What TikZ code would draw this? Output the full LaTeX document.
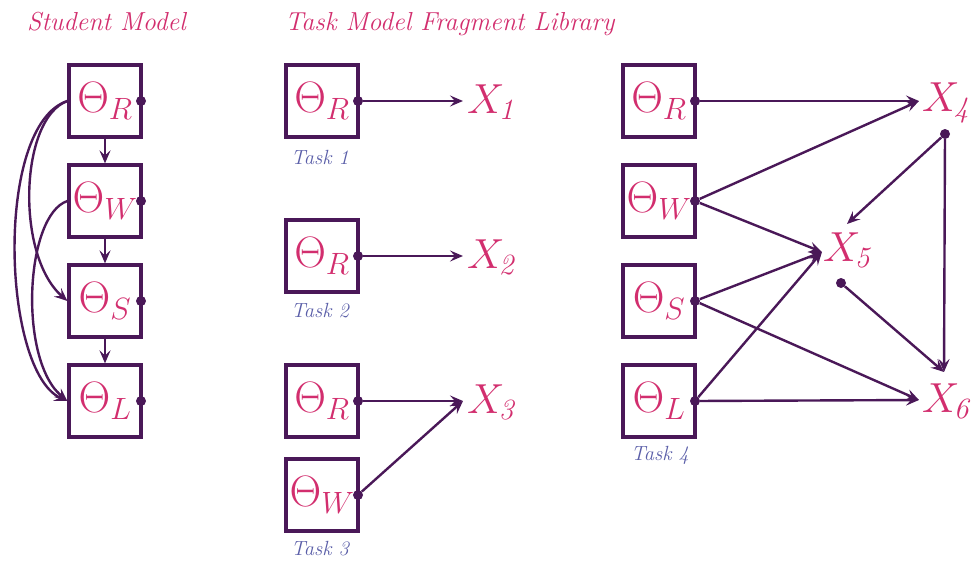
\RequirePackage{fix-cm}
\documentclass[tikz,border=0pt]{standalone}
\usetikzlibrary{arrows.meta,calc}
\definecolor{pk}{HTML}{D22E6E}
\definecolor{pu}{HTML}{4A1858}
\definecolor{bl}{HTML}{5A5EA8}
\newcommand{\xv}[1]{$X_{\mkern-1.5mu\mathit{#1}}$}
\begin{document}
\begin{tikzpicture}[x=1pt,y=-1pt,
  box/.style={draw=pu, line width=3.2pt, minimum size=72pt, inner sep=0pt, text=pk, font=\fontsize{44}{44}\selectfont},
  dot/.style={circle, fill=pu, inner sep=0pt, minimum size=10pt},
  xlab/.style={text=pk, font=\fontsize{42}{42}\selectfont, inner sep=0pt, anchor=base west},
  arr/.style={draw=pu, line width=2.4pt, -{Stealth[length=13pt,width=11pt,inset=5pt]}},
  tlab/.style={text=bl, font=\fontsize{20.5}{20.5}\selectfont\itshape},
  ttl/.style={text=pk, font=\fontsize{26}{26}\selectfont\itshape, anchor=base west, inner sep=0pt}]
\useasboundingbox (0,0) rectangle (974,563);

% titles
\node[ttl] (ttlS) at (27,30) {Student Model};
\node[ttl] (ttlT) at (285,30) {Task Model Fragment Library};

% student model
\node[box] (sR) at (105,101) {$\Theta_R$};
\node[box] (sW) at (105,201) {$\Theta_W$};
\node[box] (sS) at (105,301) {$\Theta_S$};
\node[box] (sL) at (105,401) {$\Theta_L$};
\foreach \n in {sR,sW,sS,sL} {\node[dot] (\n d) at ([xshift=-1.6pt]\n.east) {};}
\draw[arr] (sR.south) -- (sW.north);
\draw[arr] (sW.south) -- (sS.north);
\draw[arr] (sS.south) -- (sL.north);
\draw[arr] (sR.west) .. controls (20,118) and (15,255) .. (sS.west);
\draw[arr] (sR.west) .. controls (-6,125) and (2,372) .. (sL.west);
\draw[arr] (sW.west) .. controls (25,215) and (18,360) .. (sL.west);

% task 1
\node[box] (t1R) at (322,101) {$\Theta_R$};
\node[dot] (t1Rd) at ([xshift=-1.6pt]t1R.east) {};
\node[xlab] (x1) at (467,113) {\xv{1}};
\coordinate (x1in) at (463,101);
\draw[arr] (t1Rd) -- (x1in);
\node[tlab] (task1) at (320,157) {Task 1};

% task 2
\node[box] (t2R) at (322,256) {$\Theta_R$};
\node[dot] (t2Rd) at ([xshift=-1.6pt]t2R.east) {};
\node[xlab] (x2) at (467,268) {\xv{2}};
\coordinate (x2in) at (463,256);
\draw[arr] (t2Rd) -- (x2in);
\node[tlab] (task2) at (320,311) {Task 2};

% task 3
\node[box] (t3R) at (322,401) {$\Theta_R$};
\node[box] (t3W) at (322,495) {$\Theta_W$};
\node[dot] (t3Rd) at ([xshift=-1.6pt]t3R.east) {};
\node[dot] (t3Wd) at ([xshift=-1.6pt]t3W.east) {};
\node[xlab] (x3) at (467,413) {\xv{3}};
\coordinate (x3in) at (463,401);
\draw[arr] (t3Rd) -- (x3in);
\draw[arr] (t3Wd) -- (x3in);
\node[tlab] (task3) at (320,549) {Task 3};

% task 4
\node[box] (t4R) at (659,101) {$\Theta_R$};
\node[box] (t4W) at (659,201) {$\Theta_W$};
\node[box] (t4S) at (659,301) {$\Theta_S$};
\node[box] (t4L) at (659,401) {$\Theta_L$};
\foreach \n in {t4R,t4W,t4S,t4L} {\node[dot] (\n d) at ([xshift=-1.6pt]\n.east) {};}
\node[tlab] (task4) at (660,455) {Task 4};

\node[xlab] (x4) at (922,111) {\xv{4}};
\node[xlab] (x5) at (823,261) {\xv{5}};
\node[xlab] (x6) at (922,412) {\xv{6}};
\node[dot] (x4d) at (945,134) {};
\node[dot] (x5d) at (841,283) {};
\coordinate (x4in) at (919,101);
\coordinate (x5in) at (822,252);
\coordinate (x5top) at (847,224);
\coordinate (x6in) at (919,400);
\coordinate (x6top) at (944,372);

\draw[arr] (t4Rd) -- (x4in);
\draw[arr] (t4Wd) -- (x4in);
\draw[arr] (t4Wd) -- (x5in);
\draw[arr] (t4Sd) -- (x5in);
\draw[arr] (t4Ld) -- (x5in);
\draw[arr] (t4Sd) -- (x6in);
\draw[arr] (t4Ld) -- (x6in);
\draw[arr] (x4d) -- (x5top);
\draw[arr] (x4d) -- (x6top);
\draw[arr] (x5d) -- (x6top);
\end{tikzpicture}
\end{document}
